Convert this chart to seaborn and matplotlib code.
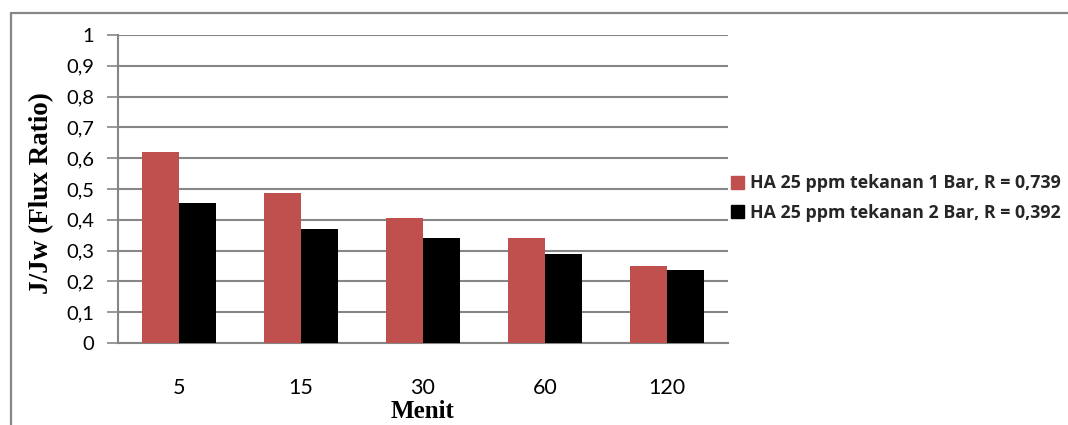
import matplotlib
matplotlib.use("Agg")
import matplotlib.pyplot as plt
from matplotlib.lines import Line2D
import seaborn as sns
import pandas as pd

# Flux ratio over filtration time for two operating pressures
menit = ["5", "15", "30", "60", "120"]
flux_1bar = [0.62, 0.487, 0.405, 0.341, 0.251]
flux_2bar = [0.455, 0.370, 0.341, 0.288, 0.236]
series_names = ["HA 25 ppm tekanan 1 Bar, R = 0,739",
                "HA 25 ppm tekanan 2 Bar, R = 0,392"]
y_ticks = [0, 0.1, 0.2, 0.3, 0.4, 0.5, 0.6, 0.7, 0.8, 0.9, 1.0]
y_tick_labels = ["0", "0,1", "0,2", "0,3", "0,4", "0,5", "0,6", "0,7", "0,8", "0,9", "1"]

df = pd.DataFrame({
    "Menit": menit * 2,
    "Flux": flux_1bar + flux_2bar,
    "Seri": [series_names[0]] * len(menit) + [series_names[1]] * len(menit),
})

sns.set_theme(style="white")
plt.rcParams["font.family"] = ["Lato", "DejaVu Sans"]

GRID = "#868686"
W, H = 1068, 425
fig = plt.figure(figsize=(W / 100, H / 100), dpi=100)
ax = fig.add_axes([118 / W, 1 - 343 / H, (728 - 118) / W, (343 - 35) / H])

sns.barplot(data=df, x="Menit", y="Flux", hue="Seri", order=menit,
            hue_order=series_names, palette=["#C0504D", "#000000"],
            width=0.6, gap=0, saturation=1, errorbar=None,
            linewidth=0, ax=ax, zorder=3)

ax.set_ylim(0, 1)
ax.set_xlim(-0.5, len(menit) - 0.5)
ax.set_yticks(y_ticks)
ax.set_yticklabels(y_tick_labels, fontsize=14.5, color="black")
ax.tick_params(axis="y", which="major", direction="out", length=8, width=1.2,
               color=GRID, pad=9, left=True)
ax.tick_params(axis="x", length=0, pad=25, labelsize=15.5, labelcolor="black")
ax.yaxis.grid(True, color=GRID, linewidth=1.5, zorder=0)
ax.set_axisbelow(True)

for side in ["top", "right"]:
    ax.spines[side].set_visible(False)
for side in ["left", "bottom"]:
    ax.spines[side].set_color(GRID)
    ax.spines[side].set_linewidth(1.5)

ax.set_xlabel("Menit", family="Liberation Serif", fontweight="bold",
              fontsize=18, color="black", va="center")
ax.set_ylabel("J/Jw (Flux Ratio)", family="Liberation Serif", fontweight="bold",
              fontsize=19.5, color="black", va="center")
ax.yaxis.set_label_coords(-(118 - 42) / (728 - 118), (343 - 193) / (343 - 35))
ax.xaxis.set_label_coords(0.5, -(412 - 343) / (343 - 35))

# Legend to the right of the plot area
ax.get_legend().remove()
handles = [plt.Rectangle((0, 0), 1, 1, color=c) for c in ["#C0504D", "#000000"]]
fig.legend(handles, series_names, loc="center left",
           bbox_to_anchor=(731 / W, 1 - 198 / H), frameon=False,
           prop={"family": "Open Sans", "weight": "bold", "size": 12.8},
           handlelength=0.75, handleheight=0.75, handletextpad=0.3,
           labelspacing=0.62, borderaxespad=0, borderpad=0)

# Chart area border (left and top edges)
fig.add_artist(Line2D([11 / W, 11 / W], [0, 1 - 13 / H], transform=fig.transFigure,
                      color=GRID, linewidth=1.6))
fig.add_artist(Line2D([11 / W, 1], [1 - 13 / H, 1 - 13 / H], transform=fig.transFigure,
                      color=GRID, linewidth=1.6))

fig.savefig("out.png", dpi=100, facecolor="white")
